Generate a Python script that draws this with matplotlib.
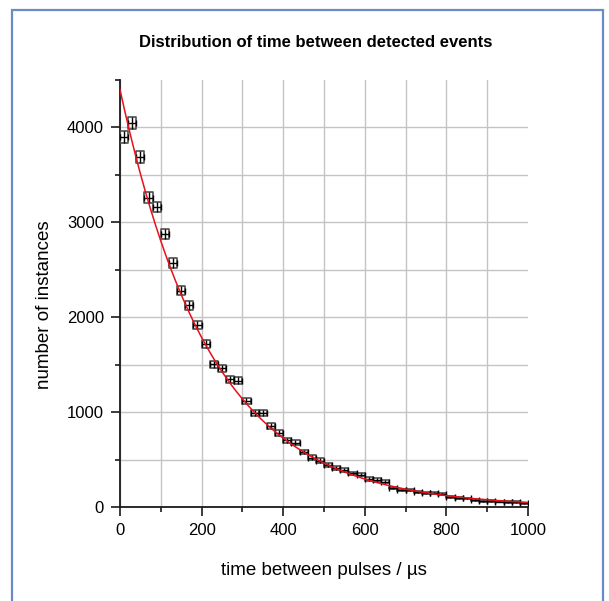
import numpy as np
import matplotlib
matplotlib.use("Agg")
import matplotlib.pyplot as plt
from matplotlib.patches import Rectangle
from matplotlib.collections import PatchCollection

plt.rcParams['font.family'] = ['Liberation Sans', 'DejaVu Sans']

# histogram of time between pulses, 20 us bins (centres)
bin_centres = np.arange(10, 1000, 20)
counts = np.array([
    3900, 4050, 3690, 3260, 3160, 2880, 2570, 2280, 2125, 1915,
    1715, 1505, 1460, 1345, 1330, 1115, 995, 995, 855, 780,
    705, 675, 580, 520, 490, 445, 412, 390, 354, 340,
    295, 284, 268, 200, 180, 178, 160, 150, 144, 137,
    102, 91, 90, 74, 63, 63, 56, 53, 53, 39,
])
half_bin = 10

# exponential fit  N(t) = A * exp(-t / tau)
fit_amp = 4400
fit_tau = 222

title = "Distribution of time between detected events"
x_label = "time between pulses / \u00b5s"
y_label = "number of instances"

fig = plt.figure(figsize=(6.09, 6.01), dpi=100)
ax = fig.add_axes([0.197, 0.1564, 0.670, 0.7105])

# error boxes: width = bin, height = 2*sqrt(N)
y_err = np.sqrt(counts)
boxes = [Rectangle((x - half_bin, y - e), 2 * half_bin, 2 * e)
         for x, y, e in zip(bin_centres, counts, y_err)]
ax.add_collection(PatchCollection(boxes, facecolor='none', edgecolor='#505050',
                                  linewidth=1.2, zorder=3))
ax.errorbar(bin_centres, counts, xerr=half_bin, fmt='none', ecolor='black',
            elinewidth=1, capsize=2.5, capthick=1, zorder=4)
ax.errorbar(bin_centres, counts, yerr=y_err, fmt='none', ecolor='black',
            elinewidth=1, capsize=0, zorder=4)

t = np.linspace(0, 1000, 400)
ax.plot(t, fit_amp * np.exp(-t / fit_tau), color='#e8101a', lw=1.1, zorder=5)

ax.set_xlim(0, 1000)
ax.set_ylim(0, 4500)
ax.set_xticks(np.arange(0, 1001, 200))
ax.set_xticks(np.arange(100, 1000, 200), minor=True)
ax.set_yticks(np.arange(0, 4001, 1000))
ax.set_yticks(np.arange(500, 4501, 1000), minor=True)

ax.grid(which='both', color='#c4c4c4', lw=1, zorder=0)
ax.xaxis.get_major_ticks()[-1].gridline.set_visible(False)
ax.yaxis.get_minor_ticks()[-1].gridline.set_visible(False)
ax.set_axisbelow(True)

for side in ['top', 'right']:
    ax.spines[side].set_visible(False)
for side in ['left', 'bottom']:
    ax.spines[side].set_linewidth(1.3)
    ax.spines[side].set_color('#1a1a1a')

ax.tick_params(which='major', direction='out', length=6.5, width=1.2,
               labelsize=12, pad=5, color='#1a1a1a')
ax.tick_params(which='minor', direction='out', length=3.5, width=1.2,
               color='#1a1a1a')

ax.set_xlabel(x_label, fontsize=13.5)
ax.xaxis.set_label_coords(0.5, -0.128)
ax.set_ylabel(y_label, fontsize=13.5)
ax.yaxis.set_label_coords(-0.165, 0.473)

fig.text(0.519, 0.930, title, ha='center', va='center',
         fontsize=12, fontweight='bold')

# blue frame round the whole chart
fig.patches.append(Rectangle((12 / 609, -0.02), 591 / 609, 0.02 + 591 / 601,
                             transform=fig.transFigure, fill=False,
                             edgecolor='#6a8cc6', linewidth=1.6))

fig.savefig("out.png", dpi=100)
